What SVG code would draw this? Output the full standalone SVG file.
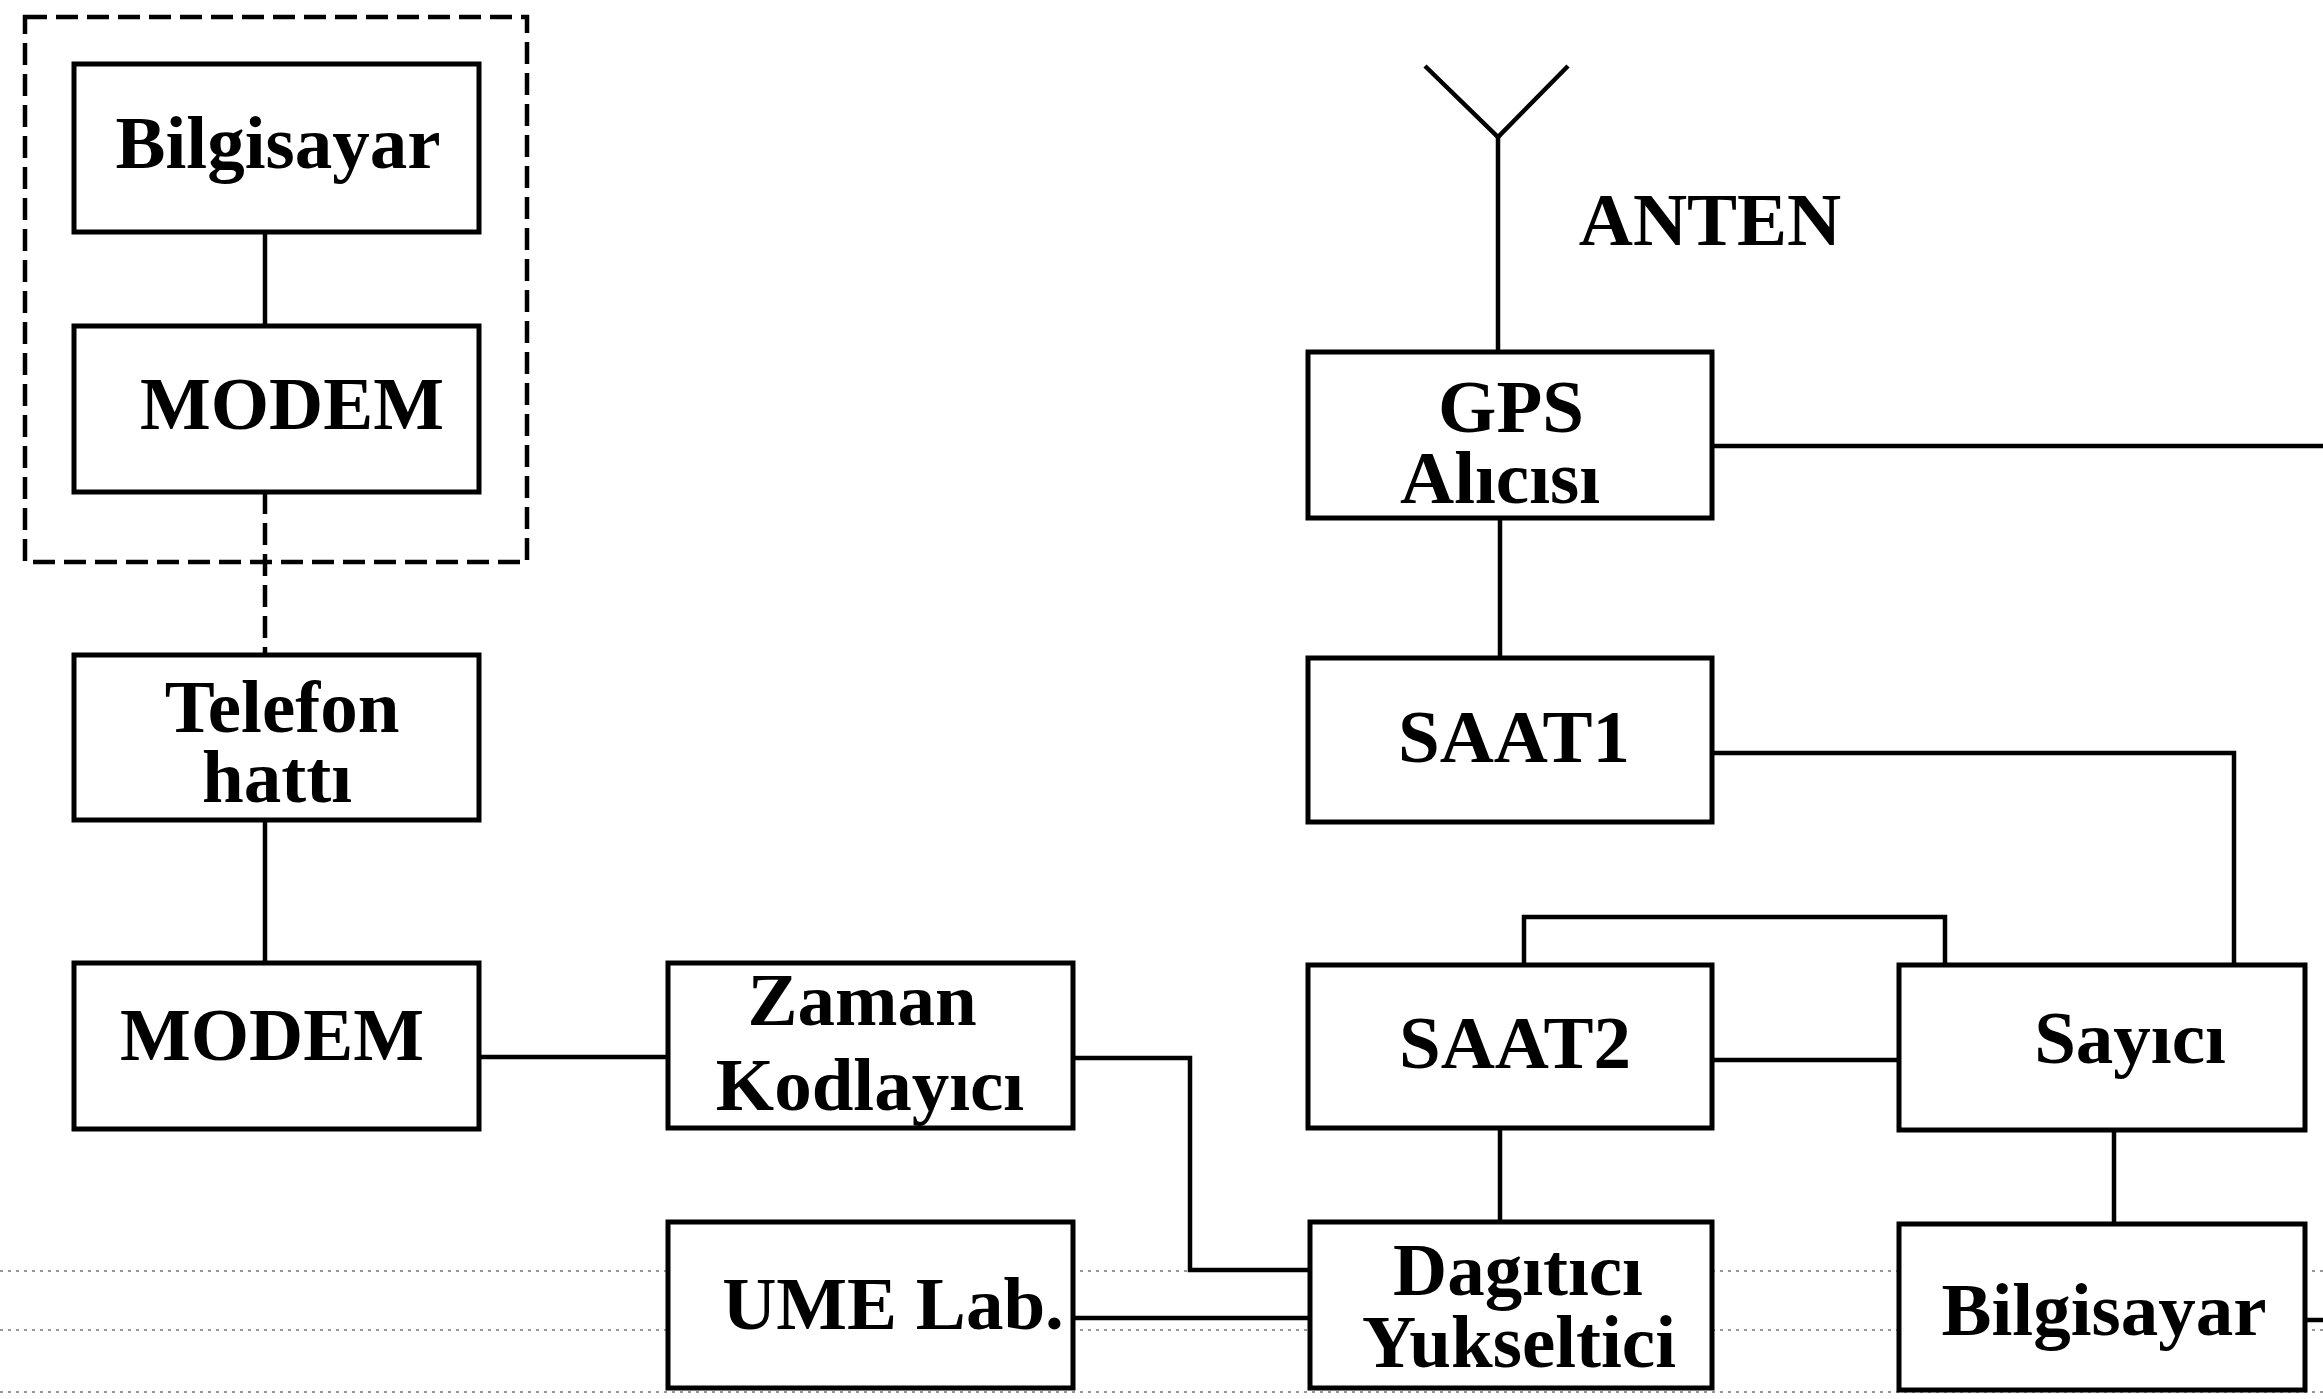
<svg xmlns="http://www.w3.org/2000/svg" width="2323" height="1399" viewBox="0 0 2323 1399">
<style>
.box{fill:#fff;stroke:#000;stroke-width:5}
.lbl{font-family:"Liberation Serif","Times New Roman",serif;font-weight:bold;font-size:75px;fill:#000;text-anchor:middle}
.ln{fill:none;stroke:#000;stroke-width:4.5;stroke-linejoin:miter}
.dash{fill:none;stroke:#000;stroke-width:4.5;stroke-dasharray:22 9}
.art{fill:none;stroke:#777;stroke-width:1.5;stroke-dasharray:3 5}
</style>
<rect width="2323" height="1399" fill="#fff"/>
<g id="scan-artifacts">
<line class="art" x1="0" y1="1271" x2="2323" y2="1271"/>
<line class="art" x1="0" y1="1330" x2="2323" y2="1330" stroke="#aaa"/>
<line class="art" x1="0" y1="1392" x2="2323" y2="1392"/>
</g>
<g id="group-frame">
<rect x="25" y="17" width="502" height="545" class="dash"/>
</g>
<g id="connectors">
<line class="ln" x1="265" y1="232" x2="265" y2="326"/>
<line class="dash" x1="265" y1="492" x2="265" y2="655"/>
<line class="ln" x1="265" y1="820" x2="265" y2="963"/>
<line class="ln" x1="479" y1="1057" x2="668" y2="1057"/>
<polyline class="ln" points="1073,1058 1190,1058 1190,1270 1310,1270"/>
<line class="ln" x1="1073" y1="1318" x2="1310" y2="1318"/>
<line class="ln" x1="1500" y1="1128" x2="1500" y2="1222"/>
<line class="ln" x1="1712" y1="1060" x2="1899" y2="1060"/>
<polyline class="ln" points="1524,965 1524,917 1945,917 1945,965"/>
<polyline class="ln" points="1712,753 2234,753 2234,965"/>
<line class="ln" x1="1712" y1="446" x2="2323" y2="446"/>
<line class="ln" x1="1500" y1="518" x2="1500" y2="658"/>
<line class="ln" x1="2114" y1="1130" x2="2114" y2="1224"/>
<line class="ln" x1="2305" y1="1320" x2="2323" y2="1320"/>
</g>
<g id="anten">
<line class="ln" x1="1498" y1="352" x2="1498" y2="137"/>
<polyline class="ln" points="1425,66 1498,137 1568,66"/>
<text class="lbl" x="1710" y="245">ANTEN</text>
</g>
<g id="bilgisayar1">
<rect class="box" x="74" y="64" width="405" height="168"/>
<text class="lbl" x="278" y="168">Bilgisayar</text>
</g>
<g id="modem1">
<rect class="box" x="74" y="326" width="405" height="166"/>
<text class="lbl" x="292" y="429">MODEM</text>
</g>
<g id="telefon">
<rect class="box" x="74" y="655" width="405" height="165"/>
<text class="lbl" x="282" y="732">Telefon</text>
<text class="lbl" x="277" y="802">hattı</text>
</g>
<g id="modem2">
<rect class="box" x="74" y="963" width="405" height="166"/>
<text class="lbl" x="272" y="1060">MODEM</text>
</g>
<g id="zaman">
<rect class="box" x="668" y="963" width="405" height="165"/>
<text class="lbl" x="862" y="1025">Zaman</text>
<text class="lbl" x="870" y="1110">Kodlayıcı</text>
</g>
<g id="ume">
<rect class="box" x="668" y="1222" width="405" height="166"/>
<text class="lbl" x="893" y="1329">UME Lab.</text>
</g>
<g id="gps">
<rect class="box" x="1308" y="352" width="404" height="166"/>
<text class="lbl" x="1511" y="432">GPS</text>
<text class="lbl" x="1500" y="503">Alıcısı</text>
</g>
<g id="saat1">
<rect class="box" x="1308" y="658" width="404" height="164"/>
<text class="lbl" x="1514" y="762">SAAT1</text>
</g>
<g id="saat2">
<rect class="box" x="1308" y="965" width="404" height="163"/>
<text class="lbl" x="1515" y="1068">SAAT2</text>
</g>
<g id="sayici">
<rect class="box" x="1899" y="965" width="406" height="165"/>
<text class="lbl" x="2130" y="1063">Sayıcı</text>
</g>
<g id="dagitici">
<rect class="box" x="1310" y="1222" width="402" height="166"/>
<text class="lbl" x="1518" y="1295">Dagıtıcı</text>
<text class="lbl" x="1519" y="1367">Yukseltici</text>
</g>
<g id="bilgisayar2">
<rect class="box" x="1899" y="1224" width="406" height="166"/>
<text class="lbl" x="2104" y="1335">Bilgisayar</text>
</g>
</svg>
